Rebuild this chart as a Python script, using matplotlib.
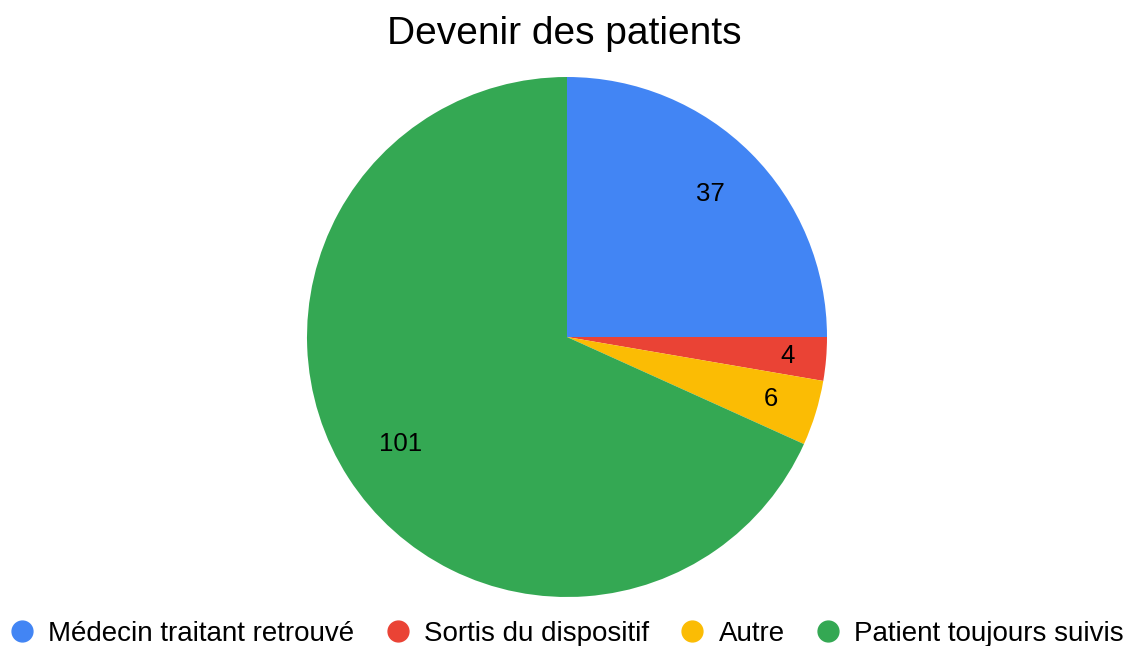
import numpy as np
import matplotlib
matplotlib.use("Agg")
import matplotlib.pyplot as plt
from matplotlib.lines import Line2D

plt.rcParams["font.family"] = ["Liberation Sans", "DejaVu Sans"]

categories = ["Médecin traitant retrouvé", "Sortis du dispositif", "Autre", "Patient toujours suivis"]
counts = [37, 4, 6, 101]
colors = ["#4285F4", "#EA4335", "#FBBC04", "#34A853"]
label_dist = [0.78, 0.85, 0.82, 0.76]

fig = plt.figure(figsize=(11.29, 6.46), dpi=100)
W, H = 1129, 646
cx, cy, r = 567, 337, 260
ax = fig.add_axes([(cx - r) / W, (H - cy - r) / H, 2 * r / W, 2 * r / H])

wedges, _ = ax.pie(counts, colors=colors, startangle=90, counterclock=False,
                   wedgeprops=dict(linewidth=0))
ax.set_xlim(-1, 1)
ax.set_ylim(-1, 1)
ax.set_aspect("equal")

# value labels placed along each wedge's mid angle
for w, n, d in zip(wedges, counts, label_dist):
    mid = np.deg2rad((w.theta1 + w.theta2) / 2)
    ax.text(d * np.cos(mid), d * np.sin(mid), str(n), ha="center", va="center",
            fontsize=18.5, color="black")

fig.text(0.5, 1 - 34 / H, "Devenir des patients", ha="center", va="center", fontsize=28)

handles = [Line2D([], [], marker="o", linestyle="", markersize=15, color=c) for c in colors]
fig.legend(handles, categories, loc="center", bbox_to_anchor=(0.5, 1 - 634 / H),
           ncol=4, frameon=False, fontsize=20, handletextpad=0.35, columnspacing=0.95,
           handlelength=1.2, borderpad=0, borderaxespad=0)

fig.savefig("out.png", dpi=100)
